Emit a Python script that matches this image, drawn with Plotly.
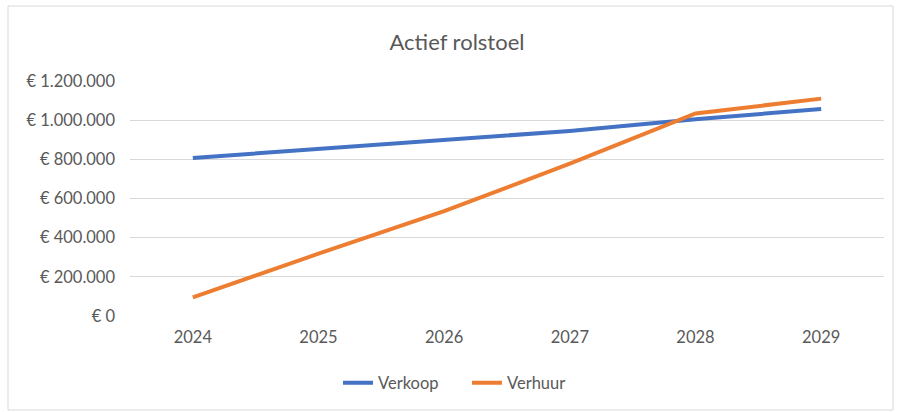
import plotly.graph_objects as go

years = ["2024", "2025", "2026", "2027", "2028", "2029"]
verkoop = [807000, 853000, 897000, 945000, 1005000, 1057000]
verhuur = [95000, 318000, 535000, 778000, 1034000, 1110000]
y_ticks = [0, 200000, 400000, 600000, 800000, 1000000, 1200000]
y_tick_text = ["€ " + f"{v:,}".replace(",", ".") for v in y_ticks]

FONT = "Lato, Liberation Sans, Arial, sans-serif"
GREY = "#595959"

fig = go.Figure()
fig.add_trace(go.Scatter(x=years, y=verkoop, name="Verkoop", mode="lines",
                         line=dict(color="#4472C4", width=4)))
fig.add_trace(go.Scatter(x=years, y=verhuur, name="Verhuur", mode="lines",
                         line=dict(color="#ED7D31", width=4)))

L, R, T, B = 130, 14, 81, 96
W, H = 898, 412
pw, ph = W - L - R, H - T - B

fig.update_layout(
    width=W, height=H,
    margin=dict(l=L, r=R, t=T, b=B),
    paper_bgcolor="white", plot_bgcolor="white",
    font=dict(family=FONT, color=GREY, size=16),
    title=dict(text="Actief rolstoel", x=(457) / W, xanchor="center",
               y=1 - 42 / H, yanchor="middle",
               font=dict(size=22, color=GREY, family=FONT)),
    xaxis=dict(type="category", range=[-0.5, 5.5], showgrid=False,
               showline=False, zeroline=False, ticks="",
               ticklabelstandoff=9,
               tickfont=dict(size=16.5, color=GREY)),
    yaxis=dict(range=[0, 1200000], tickvals=y_ticks, ticktext=y_tick_text,
               showgrid=True, gridcolor="#d9d9d9",
               gridwidth=1, zeroline=False, showline=False, ticks="",
               ticklabelstandoff=14,
               tickfont=dict(size=16.5, color=GREY)),
    legend=dict(orientation="h", x=(467 - L) / pw, xanchor="center",
                y=-(383 - (T + ph)) / ph, yanchor="middle",
                entrywidth=84, entrywidthmode="pixels",
                font=dict(size=16.5, color=GREY)),
    showlegend=True,
    shapes=[dict(type="rect", xref="paper", yref="paper",
                 x0=(8 - L) / pw, x1=(893 - L) / pw,
                 y0=(T + ph - 410) / ph, y1=(T + ph - 6) / ph,
                 line=dict(color="#d9d9d9", width=1), fillcolor="rgba(0,0,0,0)")],
)

fig.write_html("out.html", config={"displayModeBar": False},
               post_script="document.body.style.margin='0';")
